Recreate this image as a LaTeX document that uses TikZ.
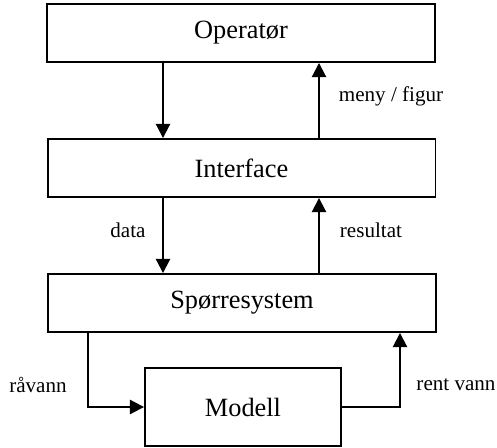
\documentclass[tikz,border=0pt]{standalone}
\usepackage{fontspec}
\setmainfont{Liberation Serif}
\usetikzlibrary{arrows.meta}
\tikzset{
    boks/.style={draw, line width=1.1pt, font=\fontsize{15}{18}\selectfont, minimum width=7.76cm, minimum height=1.16cm, inner sep=0pt},
    pil/.style={line width=1.1pt, -{Triangle[width=8pt,length=8pt]}},
    etikett/.style={font=\fontsize{12}{14}\selectfont}
}
\begin{document}
\begin{tikzpicture}[x=0.02cm,y=-0.02cm]
        \useasboundingbox (0,0) rectangle (497,447);
        \node[boks] (op) at (241,33) {Operatør};
        \node[boks] (if) at (241.5,168) {Interface};
        \node[boks] (sp) at (242,303) {Spørresystem};
        \node[boks, minimum width=3.92cm, minimum height=1.56cm] (mod) at (243,407) {Modell};
        \coordinate (v) at (163,0);
        \coordinate (h) at (319,0);
        \coordinate (vv) at (88,0);
        \coordinate (hh) at (400,0);
        \draw[pil] (op.south -| v) -- (if.north -| v);
        \draw[pil] (if.north -| h) -- (op.south -| h);
        \draw[pil] (if.south -| v) -- (sp.north -| v);
        \draw[pil] (sp.north -| h) -- (if.south -| h);
        \draw[pil] (sp.south -| vv) |- (mod.west);
        \draw[pil] (mod.east) -| (sp.south -| hh);
        \node[etikett] (meny) at (391,96) {meny / figur};
        \node[etikett] (data) at (128,230) {data};
        \node[etikett] (res) at (371,230) {resultat};
        \node[etikett] (raa) at (38,385) {råvann};
        \node[etikett] (rent) at (456,385) {rent vann};
    \end{tikzpicture}
\end{document}
